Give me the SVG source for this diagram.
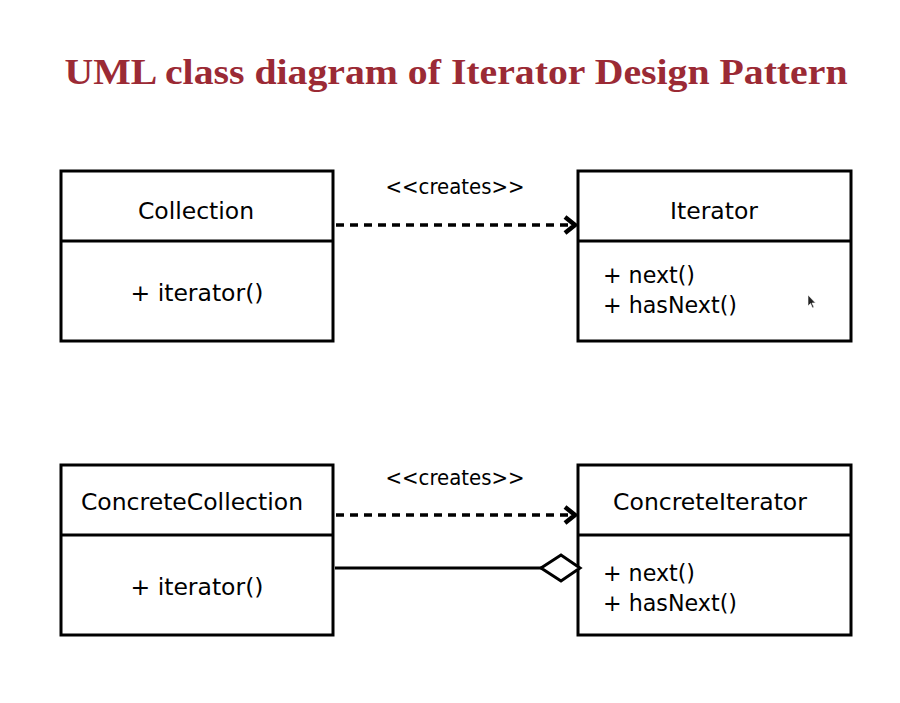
<svg xmlns="http://www.w3.org/2000/svg" width="900" height="703" viewBox="0 0 900 703">
<defs>
<style>
.box{fill:#fff;stroke:#000;stroke-width:3}
.div{stroke:#000;stroke-width:3}
.t{font-family:"DejaVu Sans","Noto Sans",sans-serif;font-size:23.5px;fill:#000}
.c{text-anchor:middle}
.lbl{font-family:"DejaVu Sans","Noto Sans",sans-serif;font-size:21px;fill:#000;text-anchor:middle}
.dash{fill:none;stroke:#000;stroke-width:3.5;stroke-dasharray:8 6}
.solid{fill:none;stroke:#000;stroke-width:3}
</style>
<marker id="open" viewBox="0 0 16 22" refX="13" refY="11" markerWidth="16" markerHeight="22" markerUnits="userSpaceOnUse" orient="auto">
<polyline points="3,3 13,11 3,19" fill="none" stroke="#000" stroke-width="4.5"/>
</marker>
</defs>
<rect width="900" height="703" fill="#fff"/>
<text x="456" y="84" text-anchor="middle" font-family="'Liberation Serif','Times New Roman',serif" font-weight="bold" font-size="36" fill="#9b2a35" textLength="783" lengthAdjust="spacingAndGlyphs">UML class diagram of Iterator Design Pattern</text>

<g id="collection">
<rect class="box" x="61" y="171" width="272" height="170"/>
<line class="div" x1="61" y1="241" x2="333" y2="241"/>
<text class="t c" x="196" y="219">Collection</text>
<text class="t c" x="197" y="301">+ iterator()</text>
</g>

<g id="iterator">
<rect class="box" x="578" y="171" width="273" height="170"/>
<line class="div" x1="578" y1="241" x2="851" y2="241"/>
<text class="t c" x="714" y="219">Iterator</text>
<text class="t" x="603" y="283" textLength="92" lengthAdjust="spacingAndGlyphs">+ next()</text>
<text class="t" x="603" y="313" textLength="134" lengthAdjust="spacingAndGlyphs">+ hasNext()</text>
<path d="M808,295 L808,306 L810.5,303.5 L812.5,308 L814,307.3 L812,303 L815.5,303 Z" fill="#222" stroke="#fff" stroke-width="0.6"/>
</g>

<g id="concretecollection">
<rect class="box" x="61" y="465" width="272" height="170"/>
<line class="div" x1="61" y1="535" x2="333" y2="535"/>
<text class="t c" x="192" y="510">ConcreteCollection</text>
<text class="t c" x="197" y="595">+ iterator()</text>
</g>

<g id="concreteiterator">
<rect class="box" x="578" y="465" width="273" height="170"/>
<line class="div" x1="578" y1="535" x2="851" y2="535"/>
<text class="t c" x="710" y="510">ConcreteIterator</text>
<text class="t" x="603" y="581" textLength="92" lengthAdjust="spacingAndGlyphs">+ next()</text>
<text class="t" x="603" y="611" textLength="134" lengthAdjust="spacingAndGlyphs">+ hasNext()</text>
</g>

<g id="connectors">
<line class="dash" x1="336" y1="225" x2="575" y2="225" marker-end="url(#open)"/>
<text class="lbl" x="455" y="194" textLength="139" lengthAdjust="spacingAndGlyphs">&lt;&lt;creates&gt;&gt;</text>
<line class="dash" x1="336" y1="515" x2="575" y2="515" marker-end="url(#open)"/>
<text class="lbl" x="455" y="485" textLength="139" lengthAdjust="spacingAndGlyphs">&lt;&lt;creates&gt;&gt;</text>
<line class="solid" x1="335" y1="568" x2="541" y2="568"/>
<polygon points="541,568 561,555 580,568 561,581" fill="#fff" stroke="#000" stroke-width="3"/>
</g>
</svg>
